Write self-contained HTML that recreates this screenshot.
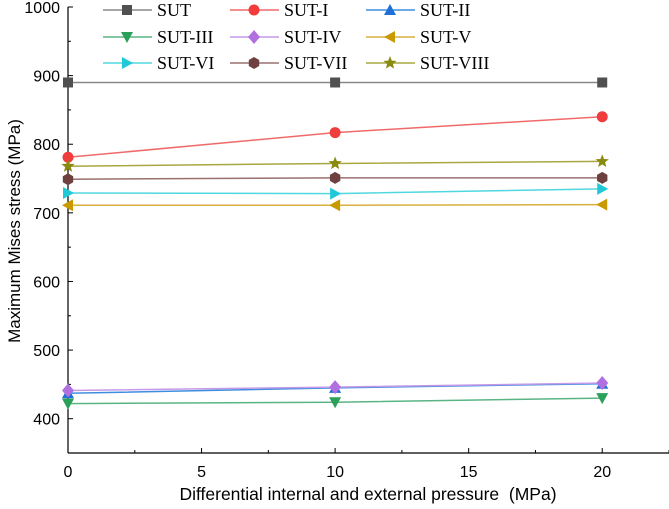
<!DOCTYPE html>
<html><head><meta charset="utf-8"><style>
body{margin:0;background:#fff}
svg{display:block}
text{font-family:"Liberation Sans",Arial,sans-serif;fill:#000}
.lg{font-family:"Liberation Serif",serif;font-size:18px}
</style></head><body>
<svg id="c" width="669" height="509"></svg>
<script>
const xValues=[0,10,20];
const xTicks=[0,5,10,15,20];
const yTicks=[400,500,600,700,800,900,1000];
const seriesNames=["SUT","SUT-I","SUT-II","SUT-III","SUT-IV","SUT-V","SUT-VI","SUT-VII","SUT-VIII"];
const sut=[890,890,890];
const sut1=[781,817,840];
const sut2=[437,445,451];
const sut3=[422,424,430];
const sut4=[441,446,452];
const sut5=[711,711,712];
const sut6=[729,728,735];
const sut7=[749,751,751];
const sut8=[768,772,775];
const seriesData=[sut,sut1,sut2,sut3,sut4,sut5,sut6,sut7,sut8];
const colors=["#505050","#f03c3c","#1f6fd6","#2aa05a","#b070e0","#c89a00","#20c8d8","#6e4040","#8a8a10"];
const lineColors=["#888","#f06a6a","#3e8ee0","#5ab584","#c49ae8","#d8b040","#50d8e0","#9a7070","#a8a840"];
const markers=["square","circle","up","down","diamond","left","right","hex","star"];
const L=68,R=669,T=7,B=453;
const sx=v=>L+(v-0)/22.5*(R-L);
const sy=v=>T+(1000-v)/(1000-350)*(B-T);
const svg=document.getElementById('c');
const NS="http://www.w3.org/2000/svg";
function mk(t,a){const e=document.createElementNS(NS,t);for(const k in a)e.setAttribute(k,a[k]);svg.appendChild(e);return e;}
function marker(type,x,y,c){
 let e;
 if(type=="square")e=mk('rect',{x:x-5,y:y-5,width:10,height:10,fill:c});
 else if(type=="circle")e=mk('circle',{cx:x,cy:y,r:5.5,fill:c});
 else if(type=="hex"){let p=[];for(let i=0;i<6;i++){const a=Math.PI/3*i+Math.PI/6;p.push((x+6*Math.cos(a))+','+(y+6*Math.sin(a)));}e=mk('polygon',{points:p.join(' '),fill:c});}
 else if(type=="star"){let p=[];for(let i=0;i<10;i++){const r=i%2?3:7;const a=-Math.PI/2+i*Math.PI/5;p.push((x+r*Math.cos(a))+','+(y+r*Math.sin(a)));}e=mk('polygon',{points:p.join(' '),fill:c});}
 else{const pts={up:[[0,-6],[6,5],[-6,5]],down:[[0,6],[6,-5],[-6,-5]],left:[[-6,0],[5,-6],[5,6]],right:[[6,0],[-5,-6],[-5,6]],diamond:[[0,-7],[6,0],[0,7],[-6,0]]}[type];
  e=mk('polygon',{points:pts.map(p=>(x+p[0])+','+(y+p[1])).join(' '),fill:c});}
 return e;
}
let ax=mk('line',{x1:L,y1:T,x2:L,y2:B,stroke:'#000','stroke-width':1.2});


ax=mk('line',{x1:L,y1:B,x2:R,y2:B,stroke:'#000','stroke-width':1.2});


for(let v=350;v<=1000;v+=50){const y=sy(v);const major=v%100==0;mk('line',{x1:L,y1:y,x2:L+(major?5:3),y2:y,stroke:'#000'});}
yTicks.forEach(v=>{const t=mk('text',{x:L-8,y:sy(v)+6,'text-anchor':'end','font-size':16});t.textContent=v;
 
 });
for(let v=0;v<=22.5;v+=2.5){const x=sx(v);const major=v%5==0;mk('line',{x1:x,y1:B,x2:x,y2:B-(major?5:3),stroke:'#000'});}
xTicks.forEach(v=>{const t=mk('text',{x:sx(v),y:B+24,'text-anchor':'middle','font-size':16});t.textContent=v;
 
 });
let t=mk('text',{x:368,y:500,'text-anchor':'middle','font-size':17.5});t.textContent='Differential internal and external pressure\u00a0 (MPa)';


t=mk('text',{x:0,y:0,'text-anchor':'middle','font-size':17,transform:'translate(20,231) rotate(-90)'});t.textContent='Maximum Mises stress (MPa)';


seriesData.forEach((d,i)=>{
 const g=mk('polyline',{points:d.map((v,j)=>sx(xValues[j])+','+sy(v)).join(' '),fill:'none',stroke:lineColors[i],'stroke-width':1.5});
 
 
 d.forEach((v,j)=>{const m=marker(markers[i],sx(xValues[j]),sy(v),colors[i]);
  
  });
});
const colX=[103,230,366],rowY=[10,37,63];
seriesNames.forEach((n,i)=>{
 const x=colX[i%3],y=rowY[Math.floor(i/3)];
 const l=mk('line',{x1:x,y1:y,x2:x+49,y2:y,stroke:lineColors[i],'stroke-width':1.5});
 
 
 marker(markers[i],x+24,y,colors[i]);
 const tx=mk('text',{x:x+54,y:y+6,class:'lg'});tx.textContent=n;
 
 
});
</script>
</body></html>
